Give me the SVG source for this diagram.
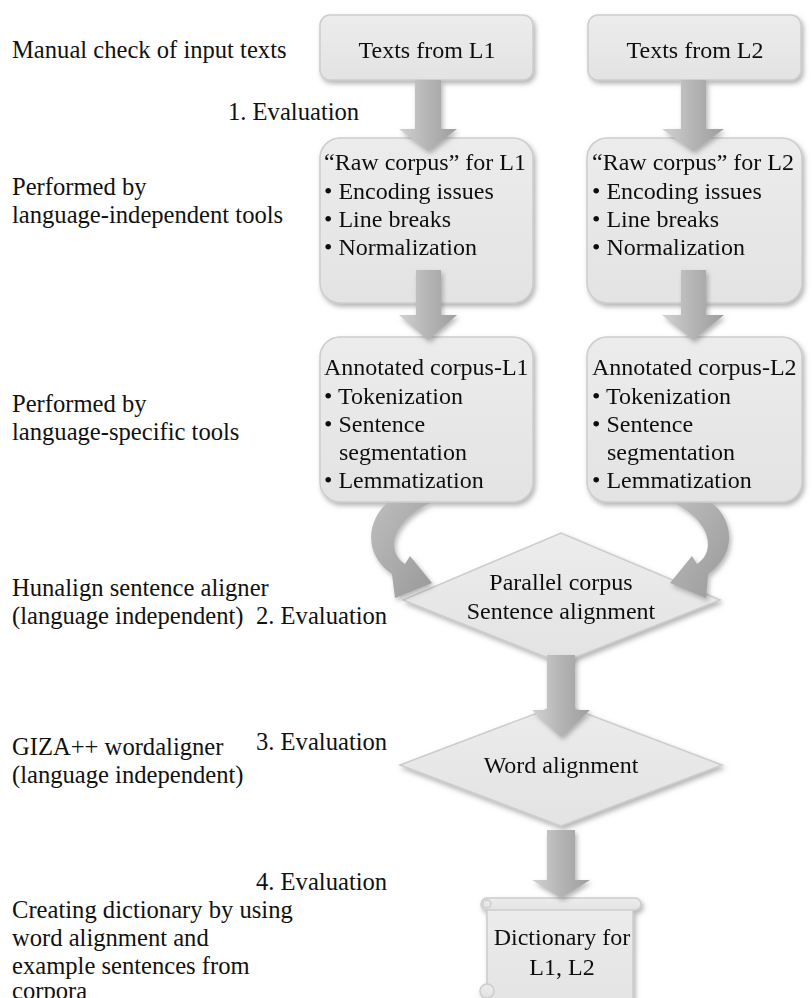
<svg xmlns="http://www.w3.org/2000/svg" width="812" height="998" viewBox="0 0 812 998">
<style>
text{font-family:"Liberation Serif","Times New Roman",serif;font-size:24px;fill:#111}
.l{font-size:24.6px}
.c{text-anchor:middle}
.box{fill:url(#boxg);stroke:#cdcdcd;stroke-width:1.5}
.arr{fill:url(#arrg)}
.carr{fill:url(#carrg)}
</style>
<defs>
<linearGradient id="boxg" x1="0" y1="0" x2="0" y2="1">
<stop offset="0" stop-color="#ececec"/><stop offset="1" stop-color="#e3e3e3"/>
</linearGradient>
<linearGradient id="arrg" x1="0" y1="0" x2="1" y2="0">
<stop offset="0" stop-color="#d2d2d2"/><stop offset="0.5" stop-color="#b4b4b4"/><stop offset="1" stop-color="#9e9e9e"/>
</linearGradient>
<linearGradient id="carrg" x1="0" y1="0" x2="1" y2="1">
<stop offset="0" stop-color="#bdbdbd"/><stop offset="1" stop-color="#999"/>
</linearGradient>
<filter id="sh" x="-10%" y="-10%" width="130%" height="130%">
<feDropShadow dx="2" dy="3" stdDeviation="2.5" flood-color="#777" flood-opacity="0.55"/>
</filter>
</defs>

<g id="labels">
<text class="l" x="12" y="58">Manual check of input texts</text>
<text class="l" x="228" y="120">1. Evaluation</text>
<text class="l" x="12" y="195">Performed by</text>
<text class="l" x="12" y="223">language-independent tools</text>
<text class="l" x="12" y="412">Performed by</text>
<text class="l" x="12" y="440">language-specific tools</text>
<text class="l" x="12" y="596">Hunalign sentence aligner</text>
<text class="l" x="12" y="624">(language independent)</text>
<text class="l" x="256" y="624">2. Evaluation</text>
<text class="l" x="12" y="755">GIZA++ wordaligner</text>
<text class="l" x="256" y="750">3. Evaluation</text>
<text class="l" x="12" y="783">(language independent)</text>
<text class="l" x="256" y="890">4. Evaluation</text>
<text class="l" x="12" y="918">Creating dictionary by using</text>
<text class="l" x="12" y="946">word alignment and</text>
<text class="l" x="12" y="974">example sentences from</text>
<text class="l" x="12" y="999">corpora</text>
</g>

<g id="n-texts-l1" filter="url(#sh)">
<rect class="box" x="320" y="15" width="213" height="65" rx="10"/>
<text class="c" x="427" y="58">Texts from L1</text>
</g>
<g id="n-texts-l2" filter="url(#sh)">
<rect class="box" x="588" y="15" width="213" height="65" rx="10"/>
<text class="c" x="695" y="58">Texts from L2</text>
</g>

<g id="n-raw-l1" filter="url(#sh)">
<rect class="box" x="320" y="138" width="213" height="165" rx="20"/>
<text x="324" y="170">“Raw corpus” for L1</text>
<text x="324" y="199">• Encoding issues</text>
<text x="324" y="227">• Line breaks</text>
<text x="324" y="255">• Normalization</text>
</g>
<g id="n-raw-l2" filter="url(#sh)">
<rect class="box" x="587" y="138" width="215" height="165" rx="20"/>
<text x="592" y="170">“Raw corpus” for L2</text>
<text x="592" y="199">• Encoding issues</text>
<text x="592" y="227">• Line breaks</text>
<text x="592" y="255">• Normalization</text>
</g>

<g id="n-ann-l1" filter="url(#sh)">
<rect class="box" x="320" y="337" width="213" height="165" rx="20"/>
<text x="324" y="375">Annotated corpus-L1</text>
<text x="324" y="404">• Tokenization</text>
<text x="324" y="432">• Sentence</text>
<text x="339" y="460">segmentation</text>
<text x="324" y="488">• Lemmatization</text>
</g>
<g id="n-ann-l2" filter="url(#sh)">
<rect class="box" x="587" y="337" width="215" height="165" rx="20"/>
<text x="592" y="375">Annotated corpus-L2</text>
<text x="592" y="404">• Tokenization</text>
<text x="592" y="432">• Sentence</text>
<text x="607" y="460">segmentation</text>
<text x="592" y="488">• Lemmatization</text>
</g>

<g id="n-parallel" filter="url(#sh)">
<polygon class="box" points="403,600 561,533 720,600 561,663"/>
<text class="c" x="561" y="590">Parallel corpus</text>
<text class="c" x="561" y="619">Sentence alignment</text>
</g>

<g id="n-word" filter="url(#sh)">
<polygon class="box" points="400,765 561,704 722,765 561,826"/>
<text class="c" x="561" y="773">Word alignment</text>
</g>

<g id="n-dict" filter="url(#sh)">
<rect class="box" x="487" y="903" width="146" height="110"/>
<rect class="box" x="481" y="898" width="160" height="12" rx="6"/>
<circle class="box" cx="487" cy="904" r="4"/>
<circle class="box" cx="487" cy="991" r="7"/>
<text class="c" x="562" y="945">Dictionary for</text>
<text class="c" x="562" y="975">L1, L2</text>
</g>

<g id="connectors" filter="url(#sh)">
<polygon class="arr" points="415,80 441,80 441,129 457,129 428,151 399,129 415,129"/>
<polygon class="arr" points="681,80 706,80 706,129 724,129 693,151 662,129 681,129"/>
<polygon class="arr" points="416,270 441,270 441,315 457,315 428,340 399,315 416,315"/>
<polygon class="arr" points="681,270 706,270 706,315 724,315 693,340 662,315 681,315"/>
<polygon class="arr" points="547,655 575,655 575,710 590,710 561,737 532,710 547,710"/>
<polygon class="arr" points="547,830 575,830 575,880 590,880 561,898 532,880 547,880"/>
<path class="carr" d="M387 503 C368 520 362 553 392 574 L395 598 L432 583 L410 556 L405 564 C386 552 390 522 430 503 Z"/>
<path class="carr" d="M712 503 C733 520 738 553 708 574 L706 598 L670 583 L692 556 L697 564 C716 552 712 522 674 503 Z"/>
</g>
</svg>
